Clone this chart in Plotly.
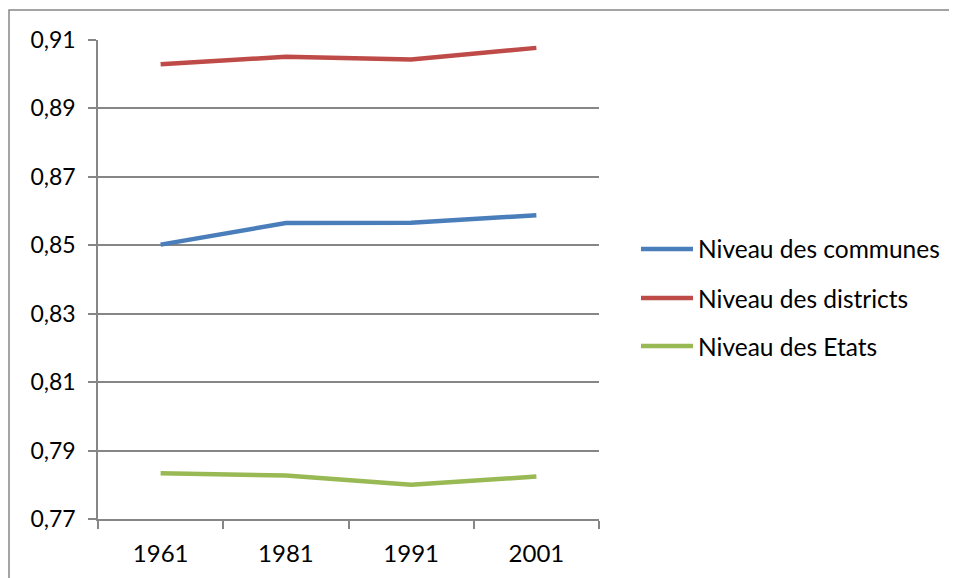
import plotly.graph_objects as go

years = ["1961", "1981", "1991", "2001"]
communes = [0.8502, 0.8565, 0.8566, 0.8588]
districts = [0.9029, 0.9051, 0.9043, 0.9077]
etats = [0.7834, 0.7827, 0.7800, 0.7824]

series = [
    ("Niveau des communes", communes, "#4A7EBB"),
    ("Niveau des districts", districts, "#BE4B48"),
    ("Niveau des Etats", etats, "#98B954"),
]

# page body has an 8px margin, so the figure is drawn 8px in
W, H = 949, 570
L, T = 90, 32
PR, PB = 591, 511          # plot right / bottom in figure px
R, B = W - PR, H - PB
pw, ph = PR - L, PB - T
FONT = "Lato"
GRID = "#868686"


def px_x(x):
    return (x - L) / pw


def px_y(y):
    return (PB - y) / ph


fig = go.Figure()
for name, vals, col in series:
    fig.add_trace(go.Scatter(x=years, y=vals, name=name, mode="lines",
                             line=dict(color=col, width=4.5), showlegend=False))

fig.update_layout(
    width=W, height=H,
    margin=dict(l=L, r=R, t=T, b=B, pad=0),
    paper_bgcolor="white", plot_bgcolor="white",
    separators=", ",
    font=dict(family=FONT, size=24, color="black"),
    showlegend=False,
    xaxis=dict(type="category", showgrid=False, showline=True, linecolor=GRID, linewidth=1.5,
               ticks="outside", tickson="boundaries", ticklen=8, tickcolor=GRID, tickwidth=1.5,
               tickfont=dict(family=FONT, size=24), range=[-0.5, 3.5], ticklabelstandoff=12),
    yaxis=dict(range=[0.77, 0.91], dtick=0.02, tick0=0.77, tickformat=".2f",
               showgrid=True, gridcolor=GRID, gridwidth=1.5,
               showline=True, linecolor=GRID, linewidth=1.5,
               ticks="outside", ticklen=8, tickcolor=GRID, tickwidth=1.5,
               zeroline=False, tickfont=dict(family=FONT, size=23), ticklabelstandoff=8),
)

# manual legend (Excel style, long line samples)
rows = [241, 290, 338]
for (name, vals, col), ry in zip(series, rows):
    fig.add_shape(type="line", xref="paper", yref="paper",
                  x0=px_x(633), x1=px_x(685), y0=px_y(ry), y1=px_y(ry),
                  line=dict(color=col, width=4.5))
    fig.add_annotation(text=name, xref="paper", yref="paper", x=px_x(688), y=px_y(ry),
                       xanchor="left", yanchor="middle", showarrow=False,
                       font=dict(family=FONT, size=24.5, color="black"))

# outer chart frame
fig.add_shape(type="rect", xref="paper", yref="paper",
              x0=px_x(1), x1=px_x(W + 20), y0=px_y(H + 20), y1=px_y(2),
              line=dict(color=GRID, width=1.5), fillcolor="rgba(0,0,0,0)", layer="below")

fig.write_html("out.html")
